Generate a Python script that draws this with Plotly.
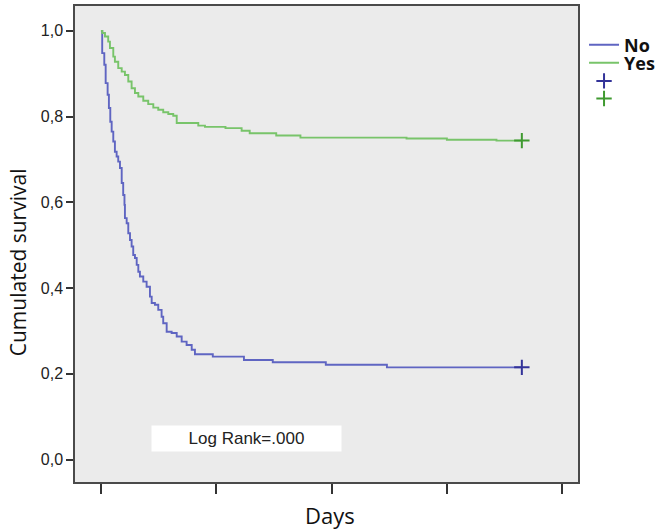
import plotly.graph_objects as go

# Kaplan-Meier estimates (time in arbitrary units: x tick spacing = 1)
t_no = [0, 0.011, 0.029, 0.041, 0.058, 0.069, 0.081, 0.093, 0.107, 0.121, 0.136, 0.150,
        0.165, 0.180, 0.193, 0.204, 0.208, 0.223, 0.237, 0.252, 0.266, 0.280, 0.295,
        0.310, 0.324, 0.338, 0.367, 0.396, 0.425, 0.440, 0.468, 0.497, 0.526, 0.540,
        0.570, 0.613, 0.657, 0.700, 0.743, 0.787, 0.815, 0.97, 1.24, 1.49, 1.95, 2.48, 3.65]
s_no = [1.0, 0.948, 0.921, 0.878, 0.851, 0.820, 0.788, 0.765, 0.742, 0.718, 0.707, 0.695,
        0.680, 0.645, 0.617, 0.594, 0.563, 0.551, 0.528, 0.512, 0.497, 0.477, 0.470,
        0.454, 0.438, 0.427, 0.415, 0.403, 0.380, 0.365, 0.361, 0.349, 0.333, 0.318,
        0.298, 0.295, 0.287, 0.275, 0.267, 0.256, 0.2455, 0.240, 0.232, 0.227, 0.221, 0.215, 0.215]

t_yes = [0, 0.012, 0.035, 0.063, 0.078, 0.107, 0.121, 0.150, 0.180, 0.208, 0.237, 0.266,
         0.295, 0.324, 0.367, 0.410, 0.454, 0.497, 0.540, 0.584, 0.627, 0.657, 0.844,
         0.902, 1.08, 1.22, 1.29, 1.52, 1.73, 2.65, 3.0, 3.43, 3.65]
s_yes = [1.0, 0.995, 0.987, 0.975, 0.960, 0.940, 0.928, 0.913, 0.905, 0.897, 0.882, 0.866,
         0.855, 0.847, 0.837, 0.829, 0.821, 0.816, 0.810, 0.806, 0.802, 0.785, 0.779,
         0.776, 0.773, 0.767, 0.761, 0.756, 0.751, 0.749, 0.746, 0.744, 0.744]

censor_t_no = [3.65]
censor_s_no = [0.215]
censor_t_yes = [3.65]
censor_s_yes = [0.744]

group_names = ["No", "Yes"]
x_ticks = [0, 1, 2, 3, 4]
y_ticks = [0.0, 0.2, 0.4, 0.6, 0.8, 1.0]
y_ticktext = ["0,0", "0,2", "0,4", "0,6", "0,8", "1,0"]

blue = "#5f65c2"
green = "#78c46a"
blue_dark = "#333399"
green_dark = "#3f9a30"

fig = go.Figure()
fig.add_trace(go.Scatter(x=t_no, y=s_no, mode="lines", line=dict(color=blue, width=1.9, shape="hv"),
                         name=group_names[0], legend="legend"))
fig.add_trace(go.Scatter(x=t_yes, y=s_yes, mode="lines", line=dict(color=green, width=1.9, shape="hv"),
                         name=group_names[1], legend="legend2"))
fig.add_trace(go.Scatter(x=censor_t_no, y=censor_s_no, mode="markers", name=" ", legend="legend3",
                         marker=dict(symbol="cross-thin", size=11, line=dict(color=blue_dark, width=2))))
fig.add_trace(go.Scatter(x=censor_t_yes, y=censor_s_yes, mode="markers", name=" ", legend="legend4",
                         marker=dict(symbol="cross-thin", size=11, line=dict(color=green_dark, width=2))))

legend_font = dict(family="Open Sans", size=18, color="#111111", weight=700)


def leg(yc):
    return dict(x=1.012, y=yc, xanchor="left", yanchor="middle", font=legend_font,
                bgcolor="rgba(0,0,0,0)", itemwidth=30, tracegroupgap=0)


fig.update_layout(
    width=655, height=530,
    margin=dict(l=75, r=77, t=6, b=48, autoexpand=False),
    paper_bgcolor="white",
    plot_bgcolor="#ebebeb",
    showlegend=True,
    legend=leg(0.918),
    legend2=leg(0.880),
    legend3=leg(0.842),
    legend4=leg(0.805),
    xaxis=dict(range=[-0.225, 4.137], tickvals=x_ticks, showticklabels=False,
               ticks="outside", ticklen=10, tickwidth=1.5, tickcolor="#333333",
               showgrid=False, zeroline=False, showline=True, mirror=True,
               linecolor="#4a4a4a", linewidth=1.5, automargin=False),
    yaxis=dict(range=[-0.0525, 1.058], tickvals=y_ticks, ticktext=y_ticktext,
               ticks="outside", ticklen=7, tickwidth=1.5, tickcolor="#333333",
               tickfont=dict(family="Liberation Sans", size=16, color="#222222"),
               showgrid=False, zeroline=False, showline=True, mirror=True,
               linecolor="#4a4a4a", linewidth=1.5, automargin=False),
    annotations=[
        dict(text="Cumulated survival", xref="paper", yref="paper", x=-0.113, y=0.462,
             textangle=-90, showarrow=False, xanchor="center", yanchor="middle",
             font=dict(family="Open Sans", size=21, color="#111111")),
        dict(text="Days", xref="paper", yref="paper", x=0.507, y=-0.069,
             showarrow=False, xanchor="center", yanchor="middle",
             font=dict(family="Open Sans", size=22, color="#111111")),
        dict(text="Log Rank=.000", xref="x", yref="y", x=1.262, y=0.049,
             showarrow=False, xanchor="center", yanchor="middle",
             width=189, height=25, bgcolor="white", borderpad=0,
             font=dict(family="Liberation Sans", size=17, color="#222222")),
    ],
)

fig.write_html("out.html", config={"displayModeBar": False},
               post_script="document.body.style.margin='0px';document.body.style.padding='0px';")
